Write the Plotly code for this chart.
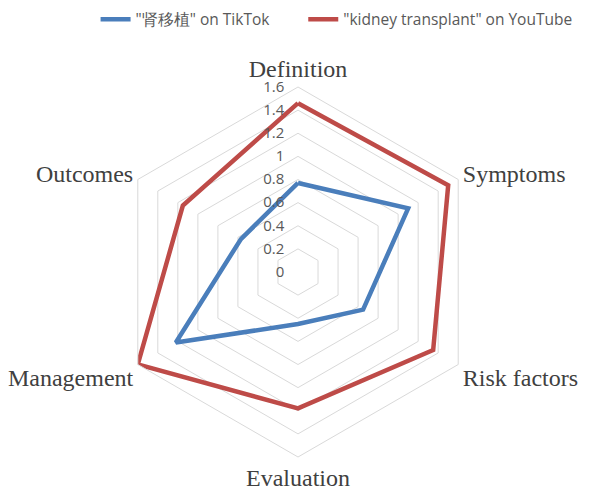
import plotly.graph_objects as go

categories = ["Definition", "Symptoms", "Risk factors", "Evaluation", "Management", "Outcomes"]
tiktok = [0.77, 1.10, 0.65, 0.45, 1.22, 0.57]
youtube = [1.46, 1.50, 1.35, 1.18, 1.60, 1.15]
series_names = ['"肾移植" on TikTok', '"kidney transplant" on YouTube']
tick_vals = [0, 0.2, 0.4, 0.6, 0.8, 1.0, 1.2, 1.4, 1.6]
tick_text = ["0", "0.2", "0.4", "0.6", "0.8", "1", "1.2", "1.4", "1.6"]

def closed(v):
    return list(v) + [v[0]]

fig = go.Figure()
fig.add_trace(go.Scatterpolar(r=closed(tiktok), theta=closed(categories), mode="lines",
                              name=series_names[0], legend="legend",
                              line=dict(color="#4A7EBB", width=4.5)))
fig.add_trace(go.Scatterpolar(r=closed(youtube), theta=closed(categories), mode="lines",
                              name=series_names[1], legend="legend2",
                              line=dict(color="#BE4B48", width=4.5)))

legend_font = dict(family="Open Sans", size=15.5, color="#595959")

fig.update_layout(
    width=590, height=494,
    margin=dict(l=113, r=107, t=87, b=37),
    paper_bgcolor="white",
    polar=dict(
        bgcolor="white",
        gridshape="linear",
        domain=dict(x=[0, 1], y=[0, 1]),
        angularaxis=dict(rotation=90, direction="clockwise", showgrid=False,
                         linecolor="#D9D9D9", linewidth=1, ticks="",
                         tickfont=dict(family="Liberation Serif", size=24, color="#404040"),
                         categoryarray=categories, categoryorder="array"),
        radialaxis=dict(range=[0, 1.6], tickvals=tick_vals, ticktext=tick_text,
                        angle=90, tickangle=90, showline=False,
                        ticks="outside", ticklen=8, tickcolor="rgba(0,0,0,0)",
                        gridcolor="#D9D9D9", gridwidth=1, side="counterclockwise",
                        tickfont=dict(family="Open Sans", size=15, color="#595959")),
    ),
    legend=dict(orientation="h", xref="container", yref="container",
                x=0.162, xanchor="left", y=0.96, yanchor="middle", font=legend_font),
    legend2=dict(orientation="h", xref="container", yref="container",
                 x=0.514, xanchor="left", y=0.96, yanchor="middle", font=legend_font),
    showlegend=True,
)
fig.write_html("out.html")
